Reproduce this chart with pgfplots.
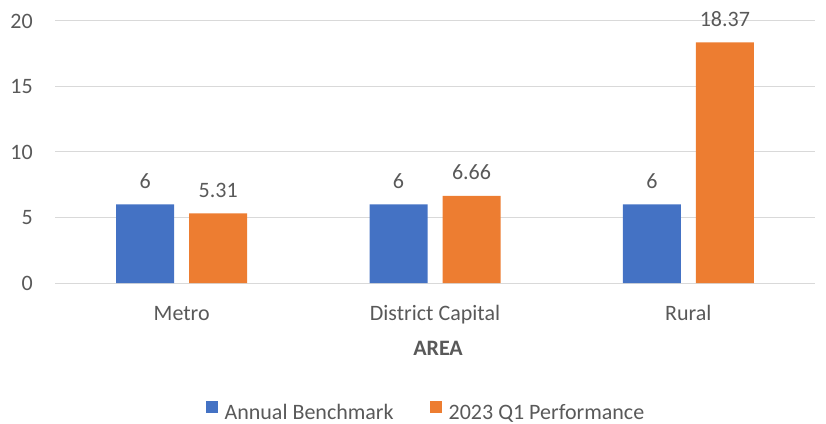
\documentclass[border=0pt]{standalone}
\usepackage{pgfplots}
\pgfplotsset{compat=1.18}
\usepackage{fontspec}
\setmainfont{Carlito}
\definecolor{cblue}{HTML}{4472C4}
\definecolor{corange}{HTML}{ED7D31}
\definecolor{ctext}{HTML}{595959}
\definecolor{cgrid}{HTML}{D9D9D9}
\begin{document}
\begin{tikzpicture}
\useasboundingbox (0,0) rectangle (826pt,423pt);
\begin{axis}[
  at={(55pt,140pt)}, anchor=south west,
  scale only axis, width=760pt, height=262pt,
  font=\fontsize{22}{26}\selectfont\color{ctext},
  ybar=15pt, bar width=58pt,
  xmin=-0.5, xmax=2.5, ymin=0, ymax=20,
  xtick=data, xticklabels={Metro, District Capital, Rural},
  ytick={0,5,10,15,20},
  /pgf/number format/assume math mode=true,
  axis x line*=bottom, axis y line*=left,
  x axis line style={cgrid, line width=1pt, -},
  y axis line style={draw=none, -},
  ymajorgrids, grid style={cgrid, line width=1pt},
  major tick length=0pt,
  yticklabel style={anchor=east, inner sep=0pt, xshift=-22pt},
  xticklabel style={anchor=base, inner sep=0pt, yshift=-37pt},
  xlabel={\textbf{AREA}},
  xlabel style={at={(axis description cs:0.504,-0.248)}, anchor=center, font=\fontsize{22}{26}\selectfont\bfseries\color{ctext}},
  nodes near coords,
  nodes near coords style={anchor=base, inner sep=0pt, yshift=16pt, color=ctext, /pgf/number format/assume math mode=true},
  point meta=explicit symbolic,
  legend style={draw=none, fill=none, at={(0.488,-0.492)}, anchor=center, legend columns=-1,
    font=\fontsize{22}{26}\selectfont\color{ctext},
    /tikz/every odd column/.append style={column sep=5pt},
    /tikz/every even column/.append style={column sep=34pt}},
  legend image code/.code={\fill[#1] (0pt,-1pt) rectangle (12pt,11pt);},
]
\addplot[fill=cblue, draw=none] coordinates {(0,6) [6] (1,6) [6] (2,6) [6]};
\addlegendentry{Annual Benchmark}
\addplot[fill=corange, draw=none] coordinates {(0,5.31) [5.31] (1,6.66) [6.66] (2,18.37) [18.37]};
\addlegendentry{2023 Q1 Performance}
\end{axis}
\end{tikzpicture}
\end{document}
